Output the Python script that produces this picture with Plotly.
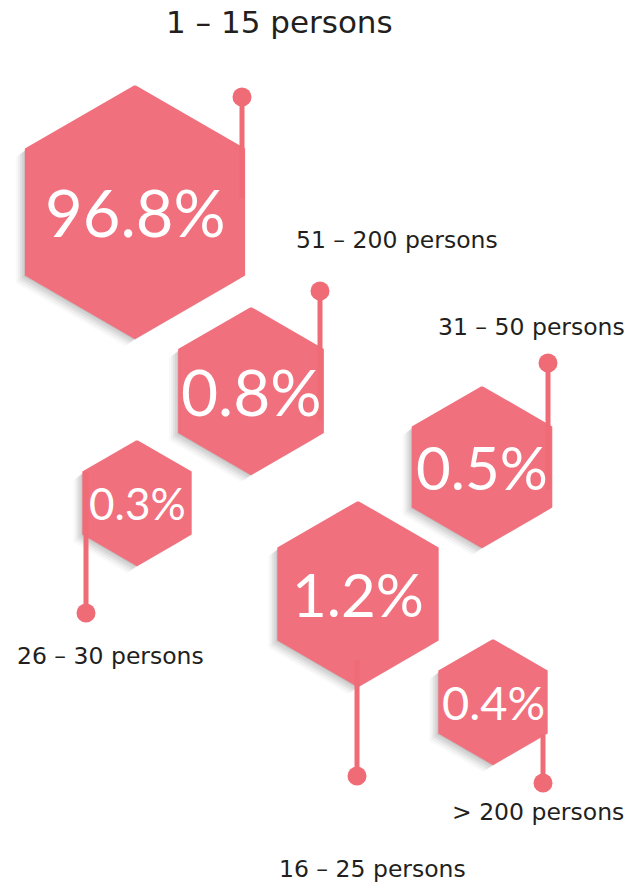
import numpy as np
import plotly.graph_objects as go

# data
groups = ["1 – 15 persons", "51 – 200 persons", "31 – 50 persons",
          "26 – 30 persons", "16 – 25 persons", "> 200 persons"]
shares = [96.8, 0.8, 0.5, 0.3, 1.2, 0.4]

# layout of the infographic (pixel space, y down)
hex_cx = [135, 251, 482, 137, 358, 493]
hex_cy = [212, 391, 467, 503, 594, 702]
hex_r = [126, 83, 80, 62, 92, 62]
pct_size = [65, 64, 60, 44, 60, 47]
pin_x = [242, 320, 548, 86, 357, 543]
pin_top = [97, 291, 363, 472, 660, 735]
pin_bot = [198, 420, 490, 613, 776, 783]
pin_dot = ["top", "top", "top", "bot", "bot", "bot"]
label_x = [279, 397, 531, 110, 372, 538]
label_y = [22, 240, 327, 656, 869, 812]
label_size = [31, 23.5, 23.5, 23.5, 23.5, 23.5]

PINK = "#F1707D"
PIN = "#EF6B75"

fig = go.Figure()


def hexagon(cx, cy, r):
    ang = np.deg2rad(np.arange(0, 361, 60) - 90)
    return cx + r * np.cos(ang), cy + r * np.sin(ang)


# soft shadow (offset to lower-left)
for cx, cy, r in zip(hex_cx, hex_cy, hex_r):
    for k, op in [(10, 0.03), (8, 0.05), (6, 0.07), (4, 0.08), (2, 0.10)]:
        xs, ys = hexagon(cx - k, cy + k * 0.8, r)
        fig.add_trace(go.Scatter(x=xs, y=ys, mode="lines", fill="toself",
                                 fillcolor=f"rgba(60,60,60,{op})",
                                 line=dict(width=0), hoverinfo="skip"))

# hexagons
for cx, cy, r in zip(hex_cx, hex_cy, hex_r):
    xs, ys = hexagon(cx, cy, r)
    fig.add_trace(go.Scatter(x=xs, y=ys, mode="lines", fill="toself",
                             fillcolor=PINK, line=dict(width=2, color=PINK),
                             hoverinfo="skip"))

# pins
for px, t, b, d in zip(pin_x, pin_top, pin_bot, pin_dot):
    fig.add_trace(go.Scatter(x=[px, px], y=[t, b], mode="lines",
                             line=dict(width=5, color=PIN), hoverinfo="skip"))
    fig.add_trace(go.Scatter(x=[px], y=[t if d == "top" else b], mode="markers",
                             marker=dict(size=19, color=PIN), hoverinfo="skip"))

# percentages
for cx, cy, v, s in zip(hex_cx, hex_cy, shares, pct_size):
    fig.add_annotation(x=cx, y=cy, text=f"{v}%", showarrow=False,
                       font=dict(family="Lato", size=s, color="white"))

# group labels
for x, y, g, s in zip(label_x, label_y, groups, label_size):
    fig.add_annotation(x=x, y=y, text=g, showarrow=False,
                       font=dict(family="DejaVu Sans", size=s, color="#231F20"))

fig.update_layout(
    width=630, height=884,
    margin=dict(l=0, r=0, t=0, b=0),
    plot_bgcolor="white", paper_bgcolor="white",
    showlegend=False,
    xaxis=dict(range=[0, 630], visible=False, fixedrange=True),
    yaxis=dict(range=[884, 0], visible=False, fixedrange=True),
)

# page body has an 8px margin by default; drop it so the chart fills the window
fig.write_html("out.html", config={"displayModeBar": False},
               post_script="document.body.style.margin='0';")
